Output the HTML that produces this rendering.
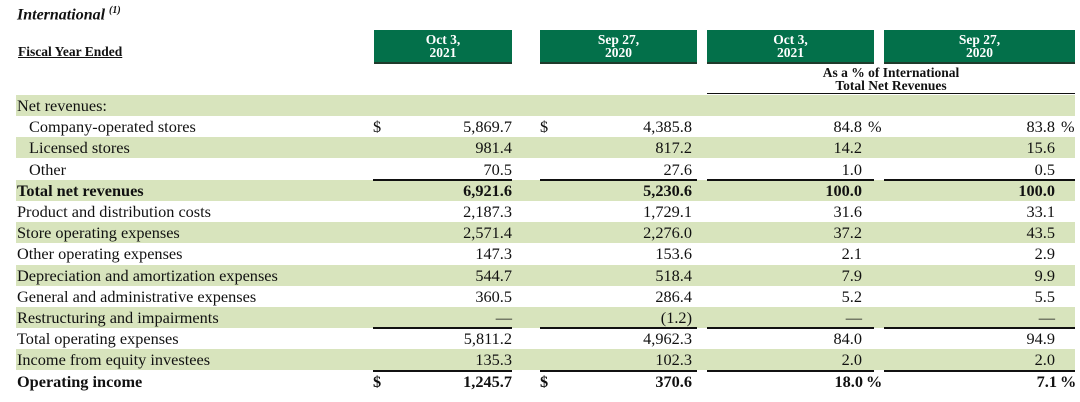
<!DOCTYPE html>
<html><head><meta charset="utf-8"><style>
body{margin:0;width:1080px;height:402px;background:#fff;position:relative;overflow:hidden;font-family:"Liberation Serif",serif;color:#111}
.a{position:absolute;white-space:nowrap}
.hd{position:absolute;background:#03704a;color:#fff;font-weight:bold;font-size:13.5px;line-height:13px;text-align:center;top:30px;height:29px;padding-top:3px;border-bottom:2px solid #1f3b2c;box-sizing:content-box}
.band{position:absolute;left:16px;width:1059px;height:21px;background:#d8e4bd}
.ln{position:absolute;height:2px;background:#111}
.t{font-size:16.3px;line-height:21px}
</style></head><body>
<div class="a" style="left:17px;top:5px;font-size:16px;font-weight:bold;font-style:italic">International <sup style="font-size:10px">(1)</sup></div>
<div class="a" style="left:18px;top:44px;font-size:13.5px;font-weight:bold;text-decoration:underline">Fiscal Year Ended</div>
<div class="hd" style="left:374px;width:138px">Oct 3,<br>2021</div>
<div class="hd" style="left:540px;width:157px">Sep 27,<br>2020</div>
<div class="hd" style="left:707px;width:167px">Oct 3,<br>2021</div>
<div class="hd" style="left:884px;width:191px">Sep 27,<br>2020</div>
<div class="a" style="left:707px;width:368px;top:66px;text-align:center;font-size:13.5px;line-height:13px;font-weight:bold">As a % of International<br>Total Net Revenues</div>
<div class="ln" style="left:707px;width:368px;top:93px;height:1px"></div>
<div id="tbl"></div>
<script>
const labels=["Net revenues:","Company-operated stores","Licensed stores","Other","Total net revenues","Product and distribution costs","Store operating expenses","Other operating expenses","Depreciation and amortization expenses","General and administrative expenses","Restructuring and impairments","Total operating expenses","Income from equity investees","Operating income"];
const fy2021=["","5,869.7","981.4","70.5","6,921.6","2,187.3","2,571.4","147.3","544.7","360.5","—","5,811.2","135.3","1,245.7"];
const fy2020=["","4,385.8","817.2","27.6","5,230.6","1,729.1","2,276.0","153.6","518.4","286.4","(1.2)","4,962.3","102.3","370.6"];
const pct2021=["","84.8","14.2","1.0","100.0","31.6","37.2","2.1","7.9","5.2","—","84.0","2.0","18.0"];
const pct2020=["","83.8","15.6","0.5","100.0","33.1","43.5","2.9","9.9","5.5","—","94.9","2.0","7.1"];
const shaded=[1,0,1,0,1,0,1,0,1,0,1,0,1,0];
const bold=[0,0,0,0,1,0,0,0,0,0,0,0,0,1];
const indent=[0,1,1,1,0,0,0,0,0,0,0,0,0,0];
const dollar=[0,1,0,0,0,0,0,0,0,0,0,0,0,1];
const pctSign=[0,1,0,0,0,0,0,0,0,0,0,0,0,1];
const rulesAfter=[3,10,12];
const T=document.getElementById('tbl');
function add(cls,style,txt){const d=document.createElement('div');d.className=cls;d.style.cssText=style;if(txt!==undefined)d.textContent=txt;T.appendChild(d);return d;}
const P=21.2,Y0=95;
labels.forEach((l,i)=>{
 const y=Y0+i*P;
 if(shaded[i]){const b=add('band','top:'+y+'px');
 
 }
 const fw=bold[i]?'bold':'normal';
 const e=add('a t','left:'+(indent[i]?29:17)+'px;top:'+y+'px;font-weight:'+fw,l);
 
 
 const cols=[[fy2021,512],[fy2020,692],[pct2021,bold[i]&&pctSign[i]?863:862],[pct2020,bold[i]&&pctSign[i]?1057:1055]];
 cols.forEach(([arr,r],c)=>{
  if(!arr[i])return;
  const v=add('a t','right:'+(1080-r)+'px;top:'+y+'px;font-weight:'+fw,arr[i]);
  
  
 });
 if(dollar[i]){
  [373,540].forEach(x=>{const d=add('a t','left:'+x+'px;top:'+y+'px;font-weight:'+fw,'$');
  
  });
 }
 if(pctSign[i]){
  [bold[i]?866:868,bold[i]?1060:1061].forEach(x=>{const d=add('a t','left:'+x+'px;top:'+y+'px;font-weight:'+fw,'%');
  
  });
 }
});
const segs=[[373,139],[540,157],[707,167],[884,191]];
rulesAfter.forEach(i=>{
 const y=Y0+(i+1)*P-1;
 segs.forEach(([x,w])=>{const r=add('ln','left:'+x+'px;width:'+w+'px;top:'+y+'px');
 
 });
});
</script>
</body></html>
